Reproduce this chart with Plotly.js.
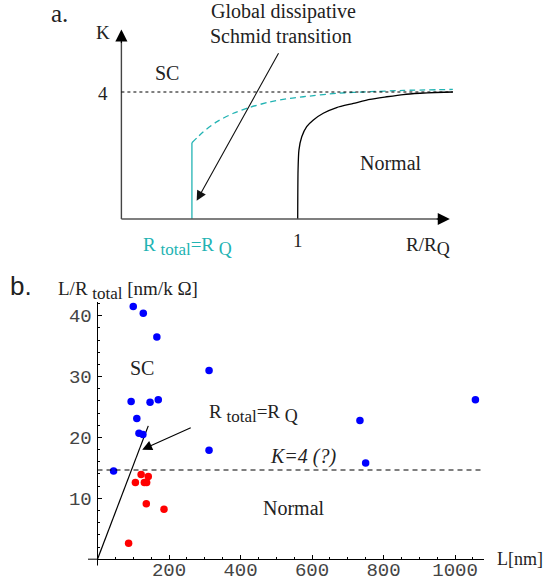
<!DOCTYPE html>
<html>
<head>
<meta charset="utf-8">
<script src="https://cdn.plot.ly/plotly-3.0.1.min.js"></script>
<style>html,body{margin:0;padding:0;background:#fff;}#chart{width:544px;height:584px;}</style>
</head>
<body>
<div id="chart"></div>
<script>
// ---------- Panel a (schematic) ----------
const blackCurveX = [1.0, 1.002, 1.007, 1.023, 1.051, 1.089, 1.145, 1.221, 1.316, 1.41, 1.505, 1.599, 1.694, 1.78, 1.88];
const blackCurveY = [0.0, 1.54, 2.17, 2.59, 2.91, 3.12, 3.33, 3.51, 3.64, 3.77, 3.85, 3.92, 3.96, 3.985, 4.0];
const cyanVertX = [0.4, 0.4];
const cyanVertY = [0.0, 2.4];
const cyanCurveX = [0.4, 0.465, 0.54, 0.635, 0.73, 0.843, 0.956, 1.032, 1.221, 1.41, 1.6, 1.88];
const cyanCurveY = [2.4, 2.75, 3.06, 3.33, 3.52, 3.69, 3.80, 3.85, 3.96, 4.01, 4.05, 4.08];
const kLevel = 4;

// ---------- Panel b (data) ----------
const blueL = [100, 128, 166, 312, 94, 147, 170, 110, 116, 127, 312, 45, 734, 750, 1057];
const blueY = [41.5, 40.4, 36.5, 31.0, 25.9, 25.8, 26.2, 23.1, 20.7, 20.5, 17.9, 14.5, 22.8, 15.8, 26.2];
const redL = [122, 142, 106, 131, 137.5, 136.5, 186, 87];
const redY = [13.9, 13.6, 12.6, 12.6, 12.6, 9.1, 8.2, 2.6];
const rqLineL = [0, 142];
const rqLineY = [0, 21.9];
const k4Level = 14.65;
const xTickVals = [200, 400, 600, 800, 1000];
const xTickText = ['200', '400', '600', '800', '1000'];
const yTickVals = [10, 20, 30, 40];
const yTickText = ['10', '20', '30', '40'];

const W = 544, H = 584;
const PX = x => x / W;
const PY = y => 1 - y / H;
const serif = 'Liberation Serif, Times New Roman, serif';
const cyan = '#22b3b3';

const traces = [
  {x: blackCurveX, y: blackCurveY, xaxis: 'x', yaxis: 'y', mode: 'lines',
   line: {color: '#000', width: 1.3, shape: 'spline', smoothing: 0.6}, hoverinfo: 'skip'},
  {x: cyanVertX, y: cyanVertY, xaxis: 'x', yaxis: 'y', mode: 'lines',
   line: {color: cyan, width: 1.3}, hoverinfo: 'skip'},
  {x: cyanCurveX, y: cyanCurveY, xaxis: 'x', yaxis: 'y', mode: 'lines',
   line: {color: cyan, width: 1.3, dash: '6px,4px', shape: 'spline', smoothing: 0.6}, hoverinfo: 'skip'},
  {x: rqLineL, y: rqLineY, xaxis: 'x2', yaxis: 'y2', mode: 'lines',
   line: {color: '#000', width: 1.2}, hoverinfo: 'skip'},
  {x: blueL, y: blueY, xaxis: 'x2', yaxis: 'y2', mode: 'markers', cliponaxis: false,
   marker: {color: '#0000ff', size: 7.5}},
  {x: redL, y: redY, xaxis: 'x2', yaxis: 'y2', mode: 'markers', cliponaxis: false,
   marker: {color: '#ff0000', size: 7.5}},
  // carrier for the tick-label axis of panel b
  {x: [], y: [], xaxis: 'x3', yaxis: 'y2', mode: 'markers', hoverinfo: 'skip'}
];

const shapes = [
  // panel a axes
  {type: 'line', xref: 'x', yref: 'y', x0: 0, y0: 0, x1: 0, y1: 5.6, line: {color: '#444', width: 1.4}},
  {type: 'line', xref: 'x', yref: 'y', x0: 0, y0: 0, x1: 1.80, y1: 0, line: {color: '#555', width: 1.6}},
  // dotted K=4
  {type: 'line', xref: 'x', yref: 'y', x0: 0, y0: kLevel, x1: 1.88, y1: kLevel, line: {color: '#000', width: 1, dash: 'dot'}},
  // panel b dashed K=4
  {type: 'line', xref: 'x2', yref: 'y2', x0: 0, y0: k4Level, x1: 1081, y1: k4Level, line: {color: '#000', width: 1.1, dash: '5px,4px'}},
  // axis overshoots in panel b
  {type: 'line', xref: 'paper', yref: 'paper', x0: PX(88), y0: PY(559.2), x1: PX(97.5), y1: PY(559.2), line: {color: '#000', width: 1}},
  {type: 'line', xref: 'paper', yref: 'paper', x0: PX(97.5), y0: PY(559.2), x1: PX(97.5), y1: PY(565.5), line: {color: '#000', width: 1}}
];

function txt(text, x, y, size, opts) {
  return Object.assign({text: text, xref: 'paper', yref: 'paper', x: PX(x), y: PY(y),
    xanchor: 'center', yanchor: 'middle', showarrow: false,
    font: {family: serif, size: size, color: '#222'}}, opts || {});
}
function sub(s, size) { return '<sub><span style="font-size:' + size + 'px">' + s + '</span></sub>'; }

const annotations = [
  // arrowheads of panel a axes
  {xref: 'x', yref: 'y', axref: 'x', ayref: 'y', x: 0, y: 5.97, ax: 0, ay: 5.5, text: '', showarrow: true,
   arrowhead: 2, arrowsize: 2.2, arrowwidth: 1.1, arrowcolor: '#000'},
  {xref: 'x', yref: 'y', axref: 'x', ayref: 'y', x: 1.863, y: 0, ax: 1.78, ay: 0, text: '', showarrow: true,
   arrowhead: 2, arrowsize: 2.2, arrowwidth: 1.1, arrowcolor: '#000'},
  // panel a diagonal arrow
  {xref: 'x', yref: 'y', axref: 'x', ayref: 'y', x: 0.427, y: 0.576, ax: 0.896, ay: 5.27, text: '', showarrow: true,
   arrowhead: 2, arrowsize: 1.8, arrowwidth: 1.1, arrowcolor: '#111'},
  // panel b arrow
  {xref: 'x2', yref: 'y2', axref: 'x2', ayref: 'y2', x: 125, y: 18.0, ax: 265, ay: 21.7, text: '', showarrow: true,
   arrowhead: 2, arrowsize: 1.8, arrowwidth: 1.1, arrowcolor: '#000'},

  txt('a.', 59, 14, 25),
  txt('Global dissipative', 283, 12, 20),
  txt('Schmid transition', 281, 36, 20),
  txt('K', 102.5, 33, 19),
  txt('SC', 166.5, 73, 20),
  txt('4', 103, 93, 19),
  txt('Normal', 391, 163, 20),
  txt('1', 297.7, 240, 19),
  txt('R ' + sub('total', 17) + '=R ' + sub('Q', 18), 140.5, 246, 19, {xanchor: 'left', font: {family: serif, size: 19, color: cyan}}),
  txt('R/R' + sub('Q', 18), 404, 246, 19, {xanchor: 'left'}),

  txt('b.', 21, 286, 26, {font: {family: 'Liberation Sans, Arial, sans-serif', size: 26, color: '#222'}}),
  txt('L/R ' + sub('total', 17) + ' [nm/k Ω]', 55.5, 290, 19, {xanchor: 'left'}),
  txt('SC', 142, 368, 20),
  txt('R ' + sub('total', 17) + '=R ' + sub('Q', 18), 206.5, 413, 19, {xanchor: 'left'}),
  txt('<i>K=4 (?)</i>', 302.5, 456, 20),
  txt('Normal', 293.5, 507.7, 20),
  txt('L[nm]', 495, 559, 18, {xanchor: 'left'})
];

const tickFont = {family: 'Liberation Mono, Courier New, monospace', size: 19, color: '#444'};
const xDomain = [97.5 / W, 484 / W];
const xRange = [0, 1081];

const layout = {
  width: W, height: H,
  margin: {l: 0, r: 0, t: 0, b: 0, pad: 0},
  paper_bgcolor: '#fff', plot_bgcolor: 'rgba(0,0,0,0)',
  showlegend: false,
  xaxis: {domain: [0, 1], range: [-121.4 / 176.3, (W - 121.4) / 176.3], visible: false, fixedrange: true},
  yaxis: {domain: [0, 1], range: [(219 - H) / 31.75, 219 / 31.75], visible: false, fixedrange: true},
  xaxis2: {domain: xDomain, range: xRange, anchor: 'y2',
    showline: true, linecolor: '#000', linewidth: 1, showgrid: false, zeroline: false,
    tickmode: 'array', tickvals: xTickVals, ticktext: xTickText, showticklabels: false,
    ticks: 'inside', ticklen: 4, tickcolor: '#000', tickwidth: 1,
    minor: {tickmode: 'linear', tick0: 0, dtick: 50, ticks: 'inside', ticklen: 2, tickcolor: '#000', showgrid: false}},
  xaxis3: {domain: xDomain, range: xRange, overlaying: 'x2', anchor: 'free', position: PY(555.5),
    showline: false, showgrid: false, zeroline: false, ticks: '',
    tickmode: 'array', tickvals: xTickVals, ticktext: xTickText,
    tickfont: tickFont, ticklabelstandoff: 0},
  yaxis2: {domain: [1 - 559.2 / H, 1 - 301.7 / H], range: [0, 42.3], anchor: 'x2',
    showline: true, linecolor: '#000', linewidth: 1, showgrid: false, zeroline: false,
    tickmode: 'array', tickvals: yTickVals, ticktext: yTickText,
    ticks: 'inside', ticklen: 4, tickcolor: '#000', tickwidth: 1,
    minor: {tickmode: 'linear', tick0: 0, dtick: 2, ticks: 'inside', ticklen: 2, tickcolor: '#000', showgrid: false},
    tickfont: tickFont, ticklabelstandoff: 1},
  shapes: shapes,
  annotations: annotations
};

Plotly.newPlot('chart', traces, layout, {staticPlot: true, displayModeBar: false});
</script>
</body>
</html>
